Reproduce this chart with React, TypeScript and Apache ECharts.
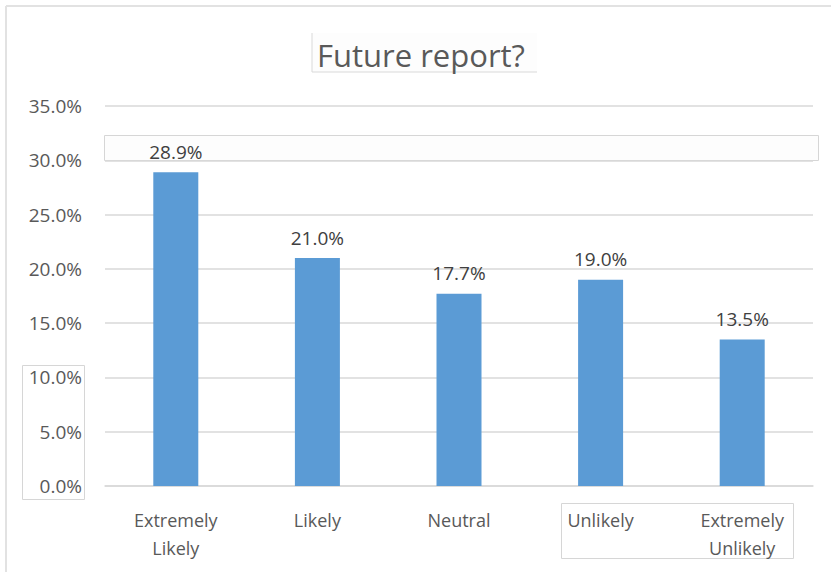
import React, { useEffect, useRef } from "react";
import * as echarts from "echarts";

const categories = ["Extremely\nLikely", "Likely", "Neutral", "Unlikely", "Extremely\nUnlikely"];
const values = [28.9, 21.0, 17.7, 19.0, 13.5];
const yTicks = { min: 0, max: 35, interval: 5 };
const titleText = "Future report?";

const FONT = "'Open Sans', 'Noto Sans', sans-serif";

export default function App() {
  const ref = useRef<HTMLDivElement>(null);
  useEffect(() => {
    if (!ref.current) return;
    const chart = echarts.init(ref.current, undefined, { renderer: "svg" });
    const grey = "#d9d9d9";
    chart.setOption({
      animation: false,
      backgroundColor: "#ffffff",
      grid: { left: 105, right: 18, top: 106, bottom: 86 },
      xAxis: {
        type: "category",
        data: categories,
        axisLine: { lineStyle: { color: grey, width: 1.5 } },
        axisTick: { show: false },
        axisLabel: {
          interval: 0,
          margin: 20,
          fontFamily: FONT,
          fontSize: 18,
          lineHeight: 28,
          color: "#595959",
        },
      },
      yAxis: {
        type: "value",
        min: yTicks.min,
        max: yTicks.max,
        interval: yTicks.interval,
        axisLine: { show: false },
        axisTick: { show: false },
        splitLine: { lineStyle: { color: grey, width: 1.5 } },
        axisLabel: {
          margin: 23,
          fontFamily: FONT,
          fontSize: 19,
          color: "#595959",
          formatter: (v: number) => v.toFixed(1) + "%",
        },
      },
      series: [
        {
          type: "bar",
          data: values,
          barWidth: 45,
          z: 3,
          itemStyle: { color: "#5B9BD5" },
          label: {
            show: true,
            position: "top",
            distance: 11,
            fontFamily: FONT,
            fontSize: 19,
            color: "#404040",
            formatter: (p: any) => Number(p.value).toFixed(1) + "%",
          },
        },
      ],
      graphic: [
        // outer chart border (top and left visible)
        { type: "line", z: 0, shape: { x1: 6, y1: 6, x2: 831, y2: 6 }, style: { stroke: "#e2e2e2", lineWidth: 2 } },
        { type: "line", z: 0, shape: { x1: 6, y1: 6, x2: 6, y2: 572 }, style: { stroke: "#e2e2e2", lineWidth: 2 } },
        // faint selection boxes
        { type: "rect", z: 0, shape: { x: 312, y: 33, width: 225, height: 39 }, style: { fill: "#fdfdfd", stroke: null } },
        { type: "line", z: 0, shape: { x1: 312, y1: 33, x2: 312, y2: 72 }, style: { stroke: "#d9d9d9", lineWidth: 1 } },
        { type: "line", z: 0, shape: { x1: 312, y1: 72, x2: 537, y2: 72 }, style: { stroke: "#d9d9d9", lineWidth: 1 } },
        { type: "rect", z: 0, shape: { x: 104.5, y: 135.5, width: 714, height: 25 }, style: { fill: "#fdfdfd", stroke: "#d6d6d6", lineWidth: 1 } },
        { type: "rect", z: 0, shape: { x: 22.5, y: 365.5, width: 62, height: 134 }, style: { fill: "none", stroke: "#d6d6d6", lineWidth: 1 } },
        { type: "rect", z: 0, shape: { x: 561.5, y: 503.5, width: 232, height: 55 }, style: { fill: "none", stroke: "#d6d6d6", lineWidth: 1 } },
        // title
        {
          type: "text",
          z: 5,
          x: 421,
          y: 55,
          style: {
            text: titleText,
            fontFamily: FONT,
            fontSize: 31,
            fill: "#595959",
            textAlign: "center",
            textVerticalAlign: "middle",
          },
        },
      ],
    });
    return () => chart.dispose();
  }, []);
  return (
    <div
      ref={ref}
      style={{ position: "fixed", left: 0, top: 0, width: 831, height: 572 }}
    />
  );
}
